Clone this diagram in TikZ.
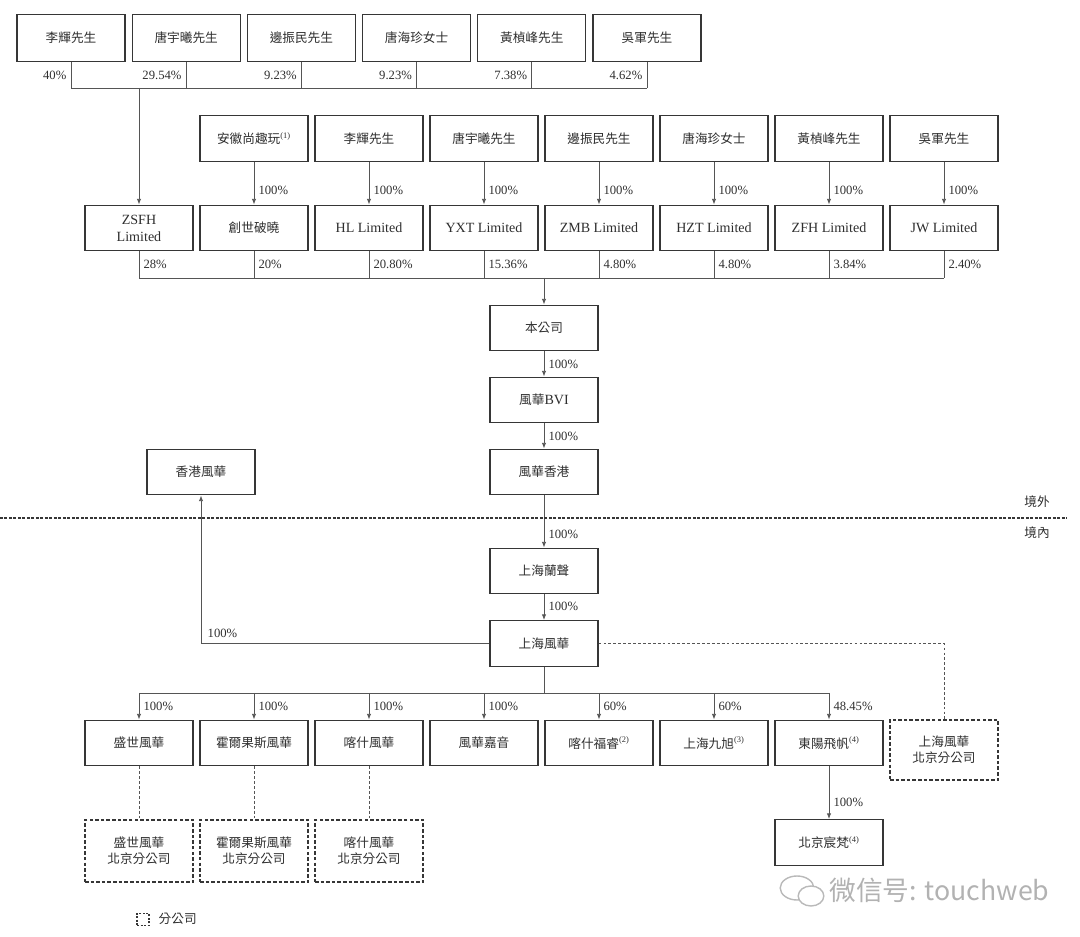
\documentclass[tikz,border=0pt]{standalone}
\usepackage{fontspec}
\setmainfont{Liberation Serif}
\newfontfamily\zhfont{Noto Sans CJK TC}
\newfontfamily\wmfont{Noto Sans CJK SC}
\usetikzlibrary{arrows.meta}
\definecolor{boxgray}{HTML}{363636}
\definecolor{txtgray}{HTML}{2E2E2E}
\definecolor{linegray}{HTML}{555555}
\newcommand{\fnmark}[1]{\textsuperscript{\rmfamily(#1)}}

\begin{document}
\begin{tikzpicture}[x=0.025cm,y=-0.025cm,
    box/.style={draw=boxgray,line width=0.9pt,minimum width=2.7cm,minimum height=1.14cm,
        align=center,inner sep=1pt,text=txtgray,font=\zhfont\fontsize{9}{11.5}\selectfont},
    latbox/.style={box,font=\fontsize{10}{12}\selectfont},
    subbox/.style={box,dash pattern=on 2.5pt off 1.5pt,minimum height=1.55cm},
    conn/.style={draw=linegray,line width=0.5pt},
    arr/.style={conn,-{Latex[length=4pt,width=3pt]}},
    dotline/.style={draw=linegray,line width=0.5pt,dash pattern=on 2pt off 1.5pt},
    pct/.style={font=\fontsize{9}{10}\selectfont,text=txtgray,inner sep=1pt},
    zhtxt/.style={font=\zhfont\fontsize{9}{11}\selectfont,text=txtgray,inner sep=1pt}]
    \useasboundingbox (0,0) rectangle (1080,937);

    % shareholders of ZSFH
    \foreach \nm/\xx/\lbl in {t1/71/李輝先生,t2/186.2/唐宇曦先生,t3/301.4/邊振民先生,
            t4/416.6/唐海珍女士,t5/531.8/黃楨峰先生,t6/647/吳軍先生}
        \node[box,minimum height=1.17cm] (\nm) at (\xx,38) {\lbl};

    % owners of the holding companies
    \foreach \nm/\xx/\lbl in {o1/254/安徽尚趣玩\fnmark{1},o2/369/李輝先生,o3/484/唐宇曦先生,
            o4/599/邊振民先生,o5/714/唐海珍女士,o6/829/黃楨峰先生,o7/944/吳軍先生}
        \node[box] (\nm) at (\xx,138.5) {\lbl};

    % holding companies
    \node[latbox] (h0) at (139,228) {ZSFH\\Limited};
    \node[box]    (h1) at (254,228) {創世破曉};
    \node[latbox] (h2) at (369,228) {HL Limited};
    \node[latbox] (h3) at (484,228) {YXT Limited};
    \node[latbox] (h4) at (599,228) {ZMB Limited};
    \node[latbox] (h5) at (714,228) {HZT Limited};
    \node[latbox] (h6) at (829,228) {ZFH Limited};
    \node[latbox] (h7) at (944,228) {JW Limited};

    % main chain
    \node[box] (gs)       at (544,328)   {本公司};
    \node[box] (bvi)      at (544,400)   {風華{\rmfamily\fontsize{10}{12}\selectfont BVI}};
    \node[box] (hk)       at (544,472)   {風華香港};
    \node[box] (hkfh)     at (201,472)   {香港風華};
    \node[box] (lansheng) at (544,571)   {上海蘭聲};
    \node[box] (shfh)     at (544,643.5) {上海風華};

    % subsidiaries
    \foreach \nm/\xx/\lbl in {b0/139/盛世風華,b1/254/霍爾果斯風華,b2/369/喀什風華,b3/484/風華嘉音,
            b4/599/喀什福睿\fnmark{2},b5/714/上海九旭\fnmark{3},b6/829/東陽飛帆\fnmark{4}}
        \node[box] (\nm) at (\xx,743) {\lbl};
    \node[box] (bjcf) at (829,842.5) {北京宸梵\fnmark{4}};
    \node[subbox,minimum height=1.5cm] (shbj) at (944,750) {上海風華\\北京分公司};
    \node[subbox] (d0) at (139,851) {盛世風華\\北京分公司};
    \node[subbox] (d1) at (254,851) {霍爾果斯風華\\北京分公司};
    \node[subbox] (d2) at (369,851) {喀什風華\\北京分公司};

    \coordinate (topbar) at (0,88);
    \coordinate (midbar) at (0,278);
    \coordinate (botbar) at (0,693);

    % top level holdings
    \foreach \i/\pc in {1/40\%,2/29.54\%,3/9.23\%,4/9.23\%,5/7.38\%,6/4.62\%} {
        \draw[conn] (t\i.south) -- (t\i.south |- topbar);
        \path (t\i.south) ++(-3,13) node[pct,anchor=east] {\pc};
    }
    \draw[conn] (t1.south |- topbar) -- (t6.south |- topbar);
    \draw[arr] (h0.north |- topbar) -- (h0.north);

    \foreach \i in {1,...,7}
        \draw[arr] (o\i) -- (h\i) node[pct,pos=0.66,right=2pt] {100\%};

    \foreach \i/\pc in {0/28\%,1/20\%,2/20.80\%,3/15.36\%,4/4.80\%,5/4.80\%,6/3.84\%,7/2.40\%}
        \draw[conn] (h\i.south) -- (h\i.south |- midbar) node[pct,pos=0.5,right=2pt] {\pc};
    \draw[conn] (h0.south |- midbar) -- (h7.south |- midbar);
    \draw[arr] (gs.north |- midbar) -- (gs.north);

    \draw[arr] (gs) -- (bvi) node[pct,midway,right=2pt] {100\%};
    \draw[arr] (bvi) -- (hk) node[pct,midway,right=2pt] {100\%};
    \draw[arr] (hk) -- (lansheng) node[pct,pos=0.74,right=2pt] {100\%};
    \draw[arr] (lansheng) -- (shfh) node[pct,pos=0.45,right=2pt] {100\%};
    \draw[arr] (shfh.west) -| (hkfh.south)
        node[pct,pos=0.5,anchor=south west,xshift=3.5pt,yshift=3pt] {100\%};
    \draw[dotline] (shfh.east) -| (shbj.north);

    \draw[conn] (shfh.south) -- (shfh.south |- botbar);
    \draw[conn] (b0.north |- botbar) -- (b6.north |- botbar);
    \foreach \i/\pc in {0/100\%,1/100\%,2/100\%,3/100\%,4/60\%,5/60\%,6/48.45\%}
        \draw[arr] (b\i.north |- botbar) -- (b\i.north) node[pct,midway,right=2pt] {\pc};
    \draw[arr] (b6) -- (bjcf) node[pct,pos=0.68,right=2pt] {100\%};
    \foreach \i in {0,1,2}
        \draw[dotline] (b\i) -- (d\i);

    % offshore / onshore
    \draw[draw=boxgray,line width=0.8pt,dash pattern=on 2pt off 1.2pt] (0,518) -- (1067,518);
    \node[zhtxt] (jingwai) at (1037,502) {境外};
    \node[zhtxt] (jingnei) at (1037,533) {境內};

    % legend
    \node[draw=boxgray,line width=0.8pt,dash pattern=on 1.5pt off 1pt,minimum size=0.3cm,inner sep=0pt] (legbox) at (143,919.5) {};
    \node[zhtxt,anchor=west] (legtxt) at (157,919) {分公司};

    % watermark
    \draw[gray!55,line width=1pt] (797,888) ellipse (0.42cm and 0.3cm);
    \draw[gray!55,line width=1pt,fill=white] (811,896) ellipse (0.32cm and 0.25cm);
    \node[font=\wmfont\fontsize{19}{20}\selectfont,text=gray!60,anchor=west,inner sep=0pt] (wm) at (829,890) {微信号: touchweb};
\end{tikzpicture}
\end{document}
